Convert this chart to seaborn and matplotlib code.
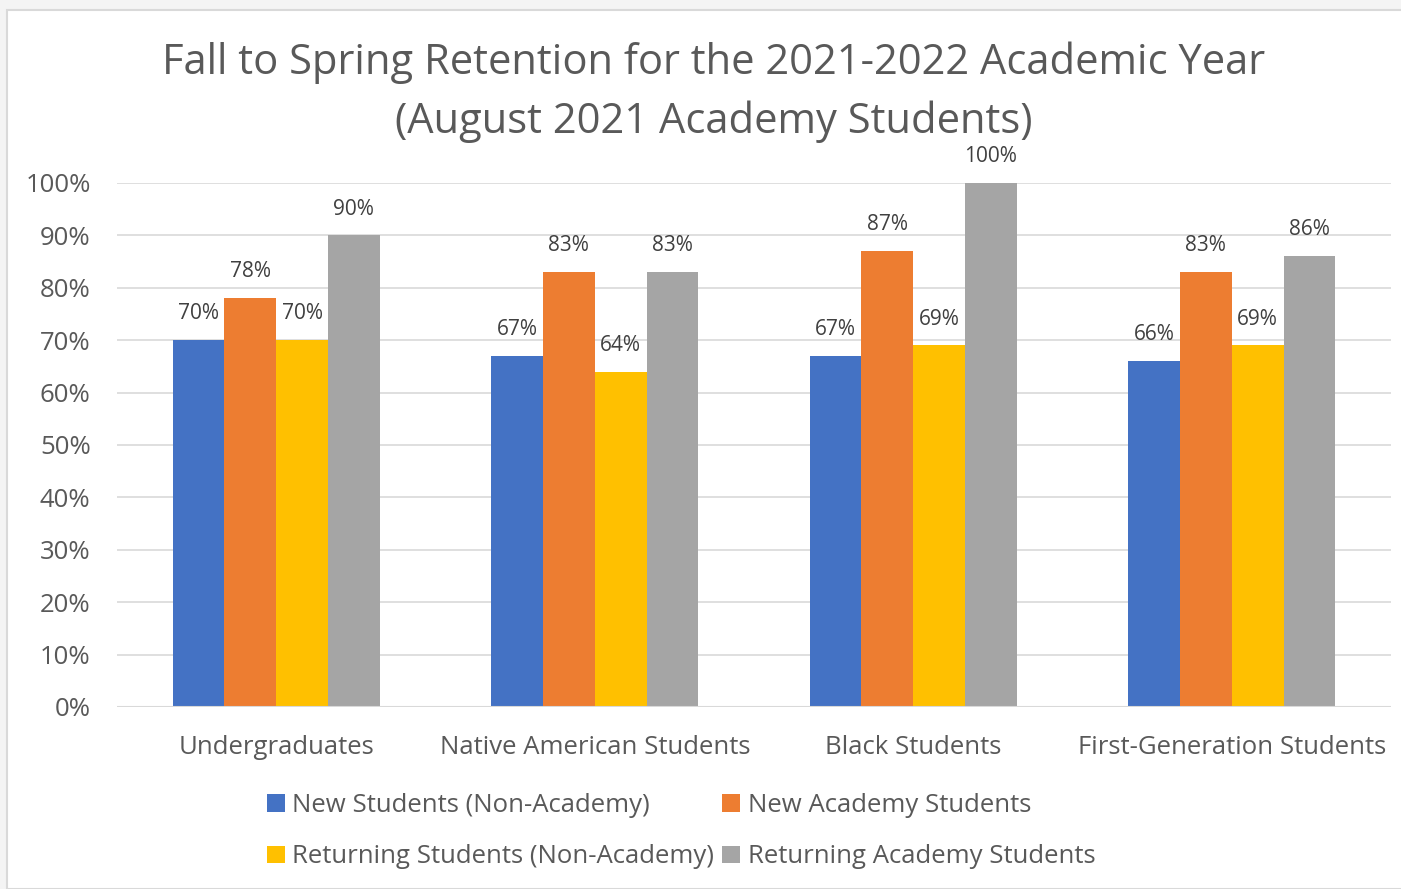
import pandas as pd
import seaborn as sns
import matplotlib.pyplot as plt
from matplotlib.patches import Rectangle

categories = ['Undergraduates', 'Native American Students', 'Black Students', 'First-Generation Students']
series = ['New Students (Non-Academy)', 'New Academy Students',
          'Returning Students (Non-Academy)', 'Returning Academy Students']
new_non_academy = [70, 67, 67, 66]
new_academy = [78, 83, 87, 83]
returning_non_academy = [70, 64, 69, 69]
returning_academy = [90, 83, 100, 86]
colors = ['#4472C4', '#ED7D31', '#FFC000', '#A5A5A5']

rows = []
for s, vals in zip(series, [new_non_academy, new_academy, returning_non_academy, returning_academy]):
    for c, v in zip(categories, vals):
        rows.append({'category': c, 'series': s, 'value': v / 100})
df = pd.DataFrame(rows)

sns.set_theme(style="white")
plt.rcParams['font.family'] = ['Open Sans', 'DejaVu Sans']
text_col = '#595959'

fig = plt.figure(figsize=(14.01, 8.89), dpi=100)
fig.patch.set_facecolor('#F4F4F4')
# chart area border like the pasted Excel chart
fig.patches.append(Rectangle((7 / 1401, 0), 1.0, 1 - 10 / 889, transform=fig.transFigure,
                             facecolor='white', edgecolor='#D9D9D9', linewidth=1.5, zorder=-5))

ax = fig.add_axes([117 / 1401, 1 - 707 / 889, (1391 - 117) / 1401, (707 - 183) / 889])
ax.set_facecolor('none')
sns.barplot(data=df, x='category', y='value', hue='series', palette=colors,
            width=0.65, gap=0, saturation=1, linewidth=0, ax=ax, zorder=3, legend=True)

ax.set_ylim(0, 1.0)
ax.set_xlim(-0.5, 3.5)
ax.set_yticks([i / 10 for i in range(11)])
ax.set_yticklabels([f'{i * 10}%' for i in range(11)])
ax.yaxis.grid(True, color='#D9D9D9', linewidth=1.2, zorder=0)
for sp in ax.spines.values():
    sp.set_visible(False)
ax.axhline(0, color='#D9D9D9', linewidth=1.5, zorder=4)
ax.tick_params(axis='both', length=0, labelsize=18.5, colors=text_col)
ax.tick_params(axis='x', pad=20)
ax.tick_params(axis='y', pad=19)
ax.set_xlabel('')
ax.set_ylabel('')

for cont in ax.containers:
    for bar in cont:
        h = bar.get_height()
        ax.annotate(f'{h * 100:.0f}%', (bar.get_x() + bar.get_width() / 2, h),
                    xytext=(0, 19), textcoords='offset points', ha='center', va='center',
                    fontsize=15, color='#404040', annotation_clip=False)

handles, labels = ax.get_legend_handles_labels()
ax.get_legend().remove()
order = [0, 2, 1, 3]
fig.legend([handles[i] for i in order], [labels[i] for i in order], ncol=2,
           loc='center', bbox_to_anchor=(681 / 1401, 1 - 831 / 889), frameon=False,
           fontsize=18.5, labelcolor=text_col, handlelength=0.7, handleheight=0.7,
           handletextpad=0.3, columnspacing=0.3, labelspacing=1.05)

fig.suptitle('Fall to Spring Retention for the 2021-2022 Academic Year\n(August 2021 Academy Students)',
             x=714 / 1401, y=1 - 92 / 889, va='center', fontsize=30, color=text_col, linespacing=1.5)

fig.savefig('out.png', dpi=100)
